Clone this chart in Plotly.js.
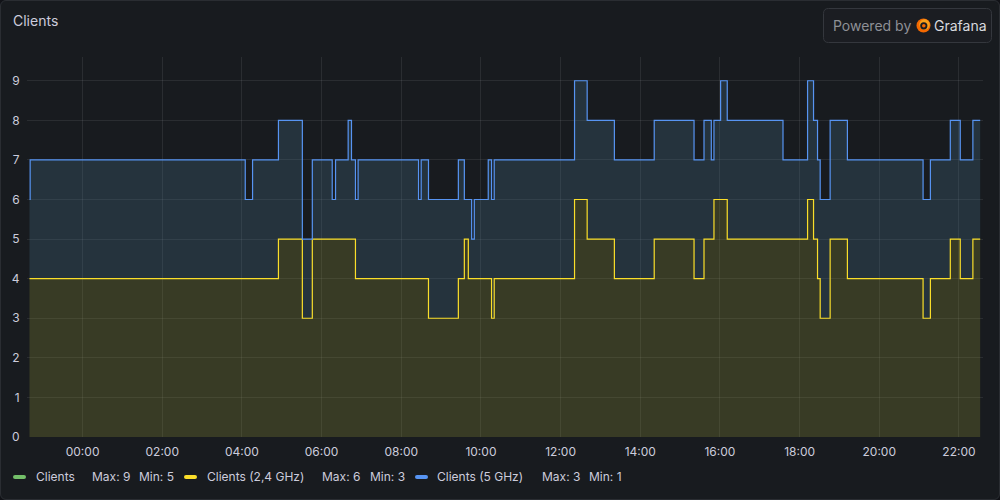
<!DOCTYPE html>
<html>
<head>
<meta charset="utf-8">
<script src="https://cdn.plot.ly/plotly-3.0.1.min.js"></script>
<style>
  html, body { margin:0; padding:0; background:#111217; }
  #wrap { position:relative; width:1000px; height:500px; }
  #plot { width:1000px; height:500px; }
  #frame { position:absolute; left:0; top:0; width:1000px; height:500px; box-sizing:border-box;
           border:1px solid #2a2d32; border-radius:6px; box-shadow:0 0 0 8px #111217; pointer-events:none; }
</style>
</head>
<body>
<div id="wrap">
  <div id="plot"></div>
  <div id="frame"></div>
</div>
<script>
// ---- data ----
const times = [
  "2024-05-14 22:40","2024-05-14 22:41","2024-05-15 04:05","2024-05-15 04:16","2024-05-15 04:55",
  "2024-05-15 05:31","2024-05-15 05:46","2024-05-15 06:16","2024-05-15 06:21","2024-05-15 06:40",
  "2024-05-15 06:45","2024-05-15 06:51","2024-05-15 06:55","2024-05-15 08:26","2024-05-15 08:30",
  "2024-05-15 08:41","2024-05-15 09:26","2024-05-15 09:35","2024-05-15 09:41","2024-05-15 09:46",
  "2024-05-15 09:50","2024-05-15 10:11","2024-05-15 10:16","2024-05-15 10:20","2024-05-15 12:21",
  "2024-05-15 12:40","2024-05-15 13:21","2024-05-15 14:21","2024-05-15 15:21","2024-05-15 15:36",
  "2024-05-15 15:47","2024-05-15 15:51","2024-05-15 16:01","2024-05-15 16:11","2024-05-15 17:35",
  "2024-05-15 18:12","2024-05-15 18:21","2024-05-15 18:27","2024-05-15 18:31","2024-05-15 18:46",
  "2024-05-15 19:12","2024-05-15 21:06","2024-05-15 21:17","2024-05-15 21:47","2024-05-15 22:02",
  "2024-05-15 22:21","2024-05-15 22:32"
];
const clients24 = [4,4,4,4,5, 3,5,5,5,5, 5,4,4,4,4, 3,4,5,4,4, 4,4,3,4,6, 5,4,5,4,5, 5,6,6,5,5, 6,5,4,3,5, 4,3,4,5,4, 5,5];
const clients5  = [2,3,2,3,3, 2,2,1,2,3, 2,2,3,2,3, 3,3,1,2,1, 2,3,3,3,3, 3,3,3,3,3, 2,2,3,3,2, 3,3,3,3,3, 3,3,3,3,3, 3,3];
const clients   = [6,7,6,7,8, 5,7,6,7,8, 7,6,7,6,7, 6,7,6,6,5, 6,7,6,7,9, 8,7,8,7,8, 7,8,9,8,7, 9,8,7,6,8, 7,6,7,8,7, 8,8];

const seriesNames = ["Clients", "Clients (2,4 GHz)", "Clients (5 GHz)"];
const timeRange = ["2024-05-14 22:36:15", "2024-05-15 22:36:15"];
const tickStart = "2024-05-15 00:00";

// ---- layout geometry (pixels) ----
const L = 27, R = 983, T = 57, B = 437;
const W = R - L, H = B - T;
const X = px => (px - L) / W;
const Y = py => (B - py) / H;

const colGreen = "#73bf69", colYellow = "#fade2a", colBlue = "#5794f2";
const textCol = "#ccccdc";
const FONT = "Inter, 'Noto Sans', sans-serif";

const traces = [
  { x: times, y: clients24, type: "scatter", mode: "lines", line: { shape: "hv", color: colYellow, width: 1.2 },
    fill: "tozeroy", fillcolor: "rgba(131,137,54,0.30)", name: seriesNames[1], showlegend: false, hoverinfo: "skip" },
  { x: times, y: clients, type: "scatter", mode: "lines", line: { shape: "hv", color: colBlue, width: 1.2 },
    fill: "tonexty", fillcolor: "rgba(71,110,131,0.30)", name: seriesNames[2], showlegend: false, hoverinfo: "skip" }
];

function rr(x0, y0, x1, y1, r) {
  return `M${X(x0+r)},${Y(y0)} L${X(x1-r)},${Y(y0)} Q${X(x1)},${Y(y0)} ${X(x1)},${Y(y0+r)} ` +
         `L${X(x1)},${Y(y1-r)} Q${X(x1)},${Y(y1)} ${X(x1-r)},${Y(y1)} L${X(x0+r)},${Y(y1)} ` +
         `Q${X(x0)},${Y(y1)} ${X(x0)},${Y(y1-r)} L${X(x0)},${Y(y0+r)} Q${X(x0)},${Y(y0)} ${X(x0+r)},${Y(y0)} Z`;
}
function circ(cx, cy, r, color) {
  return { type: "circle", xref: "paper", yref: "paper", x0: X(cx - r), x1: X(cx + r), y0: Y(cy + r), y1: Y(cy - r),
           fillcolor: color, line: { width: 0 }, layer: "above" };
}

const mx = a => Math.max(...a), mn = a => Math.min(...a);
const legendItems = [
  { name: seriesNames[0], color: colGreen,  data: clients,   bar: 13,  text: 35,  max: 91,  min: 138 },
  { name: seriesNames[1], color: colYellow, data: clients24, bar: 184, text: 206, max: 321, min: 369 },
  { name: seriesNames[2], color: colBlue,   data: clients5,  bar: 415, text: 436, max: 541, min: 588 }
];
const legY = 477;

const shapes = [
  { type: "path", xref: "paper", yref: "paper", path: rr(823.5, 8.5, 991.5, 42.5, 5),
    fillcolor: "#1b1d22", line: { color: "#34373d", width: 1 }, layer: "above" },
  circ(923.5, 25.5, 7, "#f46800"),
  circ(924.5, 24.5, 5.2, "#f9a21b"),
  circ(923.8, 25.8, 3.6, "#1b1d22"),
  circ(923.8, 25.8, 1.8, "#f46800")
];
const annotations = [
  { xref: "paper", yref: "paper", x: X(831), y: Y(25.5), xanchor: "left", yanchor: "middle", showarrow: false,
    text: "Powered by", font: { family: FONT, size: 14, color: "#8e9096" } },
  { xref: "paper", yref: "paper", x: X(932), y: Y(25.5), xanchor: "left", yanchor: "middle", showarrow: false,
    text: "Grafana", font: { family: FONT, size: 14, color: "#d8d9de", weight: 400 } }
];
legendItems.forEach(it => {
  shapes.push({ type: "path", xref: "paper", yref: "paper", path: rr(it.bar, legY - 2, it.bar + 13, legY + 2, 2),
                fillcolor: it.color, line: { width: 0 }, layer: "above" });
  annotations.push({ xref: "paper", yref: "paper", x: X(it.text - 1), y: Y(legY), xanchor: "left", yanchor: "middle",
    showarrow: false, text: it.name, font: { family: FONT, size: 12, color: textCol } });
  annotations.push({ xref: "paper", yref: "paper", x: X(it.max - 1), y: Y(legY), xanchor: "left", yanchor: "middle",
    showarrow: false, text: "Max: " + mx(it.data), font: { family: FONT, size: 12, color: textCol } });
  annotations.push({ xref: "paper", yref: "paper", x: X(it.min - 1), y: Y(legY), xanchor: "left", yanchor: "middle",
    showarrow: false, text: "Min: " + mn(it.data), font: { family: FONT, size: 12, color: textCol } });
});

const layout = {
  width: 1000, height: 500,
  margin: { l: L, r: 1000 - R, t: T, b: 500 - B, pad: 0 },
  paper_bgcolor: "#181b1f", plot_bgcolor: "rgba(0,0,0,0)",
  showlegend: false,
  title: { text: "Clients", xref: "container", yref: "container", x: 0.013, xanchor: "left",
           y: 1 - 21 / 500, yanchor: "middle", font: { family: FONT, size: 14, color: textCol, weight: 400 } },
  xaxis: { type: "date", range: timeRange, tick0: tickStart, dtick: 7200000, tickformat: "%H:%M",
           showgrid: true, gridcolor: "rgba(204,204,220,0.10)", gridwidth: 1, zeroline: false, showline: false,
           ticks: "outside", ticklen: 4, tickcolor: "rgba(0,0,0,0)",
           tickfont: { family: FONT, size: 12, color: textCol }, fixedrange: true },
  yaxis: { range: [0, 9.6], dtick: 1, tick0: 0, showgrid: true, gridcolor: "rgba(204,204,220,0.10)", gridwidth: 1,
           zeroline: false, showline: false, ticks: "outside", ticklen: 4, tickcolor: "rgba(0,0,0,0)",
           tickfont: { family: FONT, size: 12, color: textCol }, fixedrange: true },
  shapes: shapes,
  annotations: annotations
};

Plotly.newPlot("plot", traces, layout, { staticPlot: true, displayModeBar: false });
</script>
</body>
</html>
